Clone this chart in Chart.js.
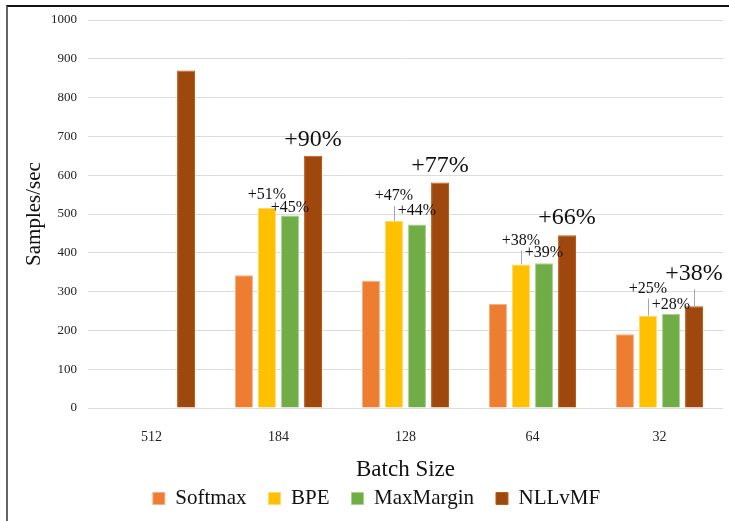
<!DOCTYPE html>
<html>
<head>
<meta charset="utf-8">
<script src="https://cdn.jsdelivr.net/npm/chart.js@4"></script>
<style>
  html, body { margin: 0; padding: 0; background: #fff; }
  #wrap { position: relative; width: 729px; height: 521px; overflow: hidden; }
  #frame { position: absolute; left: 6px; top: 5px; width: 730px; height: 530px;
           border-top: 2px solid #111; border-left: 2px solid #666; box-sizing: border-box; }
  canvas { position: absolute; left: 0; top: 0; }
</style>
</head>
<body>
<div id="wrap">
  <div id="frame"></div>
  <canvas id="chart" width="729" height="521"></canvas>
</div>
<script>
// Throughput (samples/sec) per batch size for each loss
const batchSizes = ['512', '184', '128', '64', '32'];
const softmax    = [null, 342, 328, 268, 190];
const bpe        = [null, 516, 482, 370, 238];
const maxMargin  = [null, 496, 473, 373, 243];
const nllvmf     = [870,  650, 581, 445, 262];
const yTicks     = [0, 100, 200, 300, 400, 500, 600, 700, 800, 900, 1000];

const seriesNames  = ['Softmax', 'BPE', 'MaxMargin', 'NLLvMF'];
const seriesColors = ['#ED7D31', '#FFC000', '#70AD47', '#9E480E'];
const seriesEdges  = ['#F4B183', '#FFD966', '#A9D18E', '#C55A11'];

const serif = '"Liberation Serif", "DejaVu Serif", serif';

// Speed-up annotations over Softmax: [dataset, category, font px, baseline lift, leader length]
const gainMarks = [
  [1, 1, 16, 9, 0],  [2, 1, 16, 4, 0],  [3, 1, 24, 10, 0],
  [1, 2, 16, 21, 15], [2, 2, 16, 9, 0],  [3, 2, 24, 11, 0],
  [1, 3, 16, 19, 14], [2, 3, 16, 6, 0],  [3, 3, 24, 11, 0],
  [1, 4, 16, 23, 17], [2, 4, 16, 5, 0],  [3, 4, 24, 26, 17]
];

const gainLabels = {
  id: 'gainLabels',
  afterDatasetsDraw(chart) {
    const ctx = chart.ctx;
    ctx.save();
    gainMarks.forEach(([ds, idx, size, lift, leader]) => {
      const el = chart.getDatasetMeta(ds).data[idx];
      const v = chart.data.datasets[ds].data[idx];
      const base = chart.data.datasets[0].data[idx];
      const pct = Math.round((v / base - 1) * 100);
      if (leader > 0) {
        ctx.strokeStyle = '#a6a6a6';
        ctx.lineWidth = 1;
        ctx.beginPath();
        ctx.moveTo(Math.round(el.x) + 0.5, el.y);
        ctx.lineTo(Math.round(el.x) + 0.5, el.y - leader);
        ctx.stroke();
      }
      ctx.fillStyle = '#111';
      ctx.font = size + 'px ' + serif;
      ctx.textAlign = 'center';
      ctx.textBaseline = 'alphabetic';
      ctx.fillText('+' + pct + '%', el.x, el.y - lift);
    });
    ctx.restore();
  }
};

const seriesData = [softmax, bpe, maxMargin, nllvmf];

new Chart(document.getElementById('chart'), {
  type: 'bar',
  data: {
    labels: batchSizes,
    datasets: seriesNames.map((name, i) => ({
      label: name,
      data: seriesData[i],
      backgroundColor: seriesColors[i],
      borderColor: seriesEdges[i],
      borderWidth: 1,
      barPercentage: 0.78,
      categoryPercentage: 0.725
    }))
  },
  options: {
    responsive: false,
    animation: false,
    devicePixelRatio: 1,
    layout: { padding: { left: 30, right: 6, top: 20, bottom: 2 } },
    plugins: {
      legend: {
        position: 'bottom',
        labels: {
          boxWidth: 12, boxHeight: 12, padding: 22,
          color: '#111',
          font: { family: serif, size: 21 }
        }
      },
      tooltip: { enabled: false }
    },
    scales: {
      x: {
        afterFit(scale) { scale.height = 58; },
        grid: { display: false },
        border: { display: false },
        ticks: { color: '#222', font: { family: serif, size: 14 }, padding: 13 },
        title: {
          display: true, text: 'Batch Size', color: '#111',
          font: { family: serif, size: 23 }, padding: { top: 0, bottom: -18 }
        }
      },
      y: {
        min: 0, max: 1000,
        afterBuildTicks(scale) { scale.ticks = yTicks.map(v => ({ value: v })); },
        afterFit(scale) { scale.width = 58; },
        grid: { color: '#dcdcdc', lineWidth: 1, drawTicks: false },
        border: { display: false },
        ticks: {
          color: '#222', font: { family: serif, size: 13 }, padding: 11,
          callback: v => String(v)
        },
        title: {
          display: true, text: 'Samples/sec', color: '#111',
          font: { family: serif, size: 21 }, padding: { top: -8, bottom: 0 }
        }
      }
    }
  },
  plugins: [gainLabels]
});
</script>
</body>
</html>
